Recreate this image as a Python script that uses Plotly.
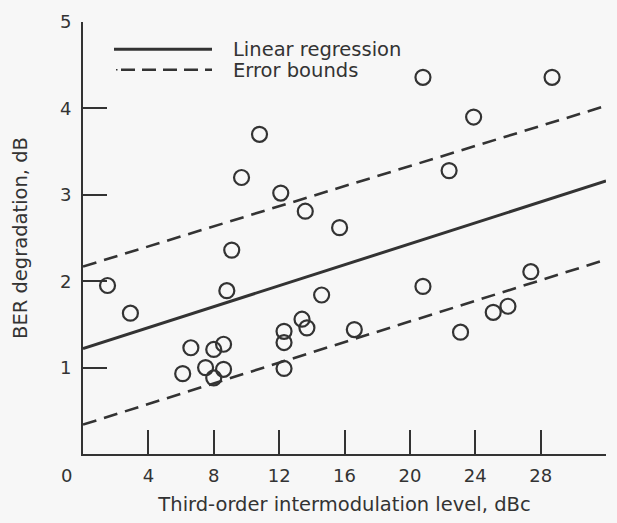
import plotly.graph_objects as go

# Measured data (third-order IM level, dBc  vs  BER degradation, dB)
im_level = [1.5, 2.9, 6.1, 6.6, 7.5, 8.0, 8.0, 8.6, 8.6, 8.8, 9.1, 9.7, 10.8,
            12.1, 13.6, 12.3, 12.3, 12.3, 13.4, 13.7, 14.6, 15.7, 16.6,
            20.8, 20.8, 22.4, 23.9, 23.1, 25.1, 26.0, 27.4, 28.7]
ber_deg = [1.95, 1.63, 0.93, 1.23, 1.00, 0.88, 1.21, 1.27, 0.98, 1.89, 2.36, 3.20, 3.70,
           3.02, 2.81, 1.42, 1.29, 0.99, 1.56, 1.46, 1.84, 2.62, 1.44,
           1.94, 4.36, 3.28, 3.90, 1.41, 1.64, 1.71, 2.11, 4.36]

# Regression line and error bounds (end points)
fit_x = [0, 32]
fit_y = [1.22, 3.16]
upper_y = [2.17, 4.03]
lower_y = [0.34, 2.25]

x_ticks = [4, 8, 12, 16, 20, 24, 28, 32]
y_ticks = [1, 2, 3, 4, 5]

INK = "#333333"
BG = "#f7f7f7"
FONT = "DejaVu Sans"

fig = go.Figure()
fig.add_trace(go.Scatter(x=fit_x, y=fit_y, mode="lines",
                         line=dict(color=INK, width=3), name="Linear regression"))
for yy in (upper_y, lower_y):
    fig.add_trace(go.Scatter(x=fit_x, y=yy, mode="lines",
                             line=dict(color=INK, width=2.6, dash="14px,8px"),
                             name="Error bounds"))
fig.add_trace(go.Scatter(x=im_level, y=ber_deg, mode="markers",
                         marker=dict(symbol="circle-open", size=15,
                                     color=INK, line=dict(width=2.2, color=INK))))

W, H = 617, 523
ml, mr, mt, mb = 83, 11, 14, 66
pw, ph = W - ml - mr, H - mt - mb

def px(xp):
    return (xp - ml) / pw

def py(yp):
    return 1 - (yp - mt) / ph

shapes = [
    dict(type="line", xref="paper", yref="paper", x0=px(114), x1=px(212),
         y0=py(42), y1=py(42), line=dict(color=INK, width=3)),
    dict(type="line", xref="paper", yref="paper", x0=px(121), x1=px(212),
         y0=py(63), y1=py(63), line=dict(color=INK, width=2.6, dash="14px,7px")),
    dict(type="line", xref="paper", yref="paper", x0=px(116), x1=px(117.5),
         y0=py(63), y1=py(63), line=dict(color=INK, width=1.5)),
]

annotations = [
    dict(xref="paper", yref="paper", x=px(231), y=py(42), text="Linear regression",
         showarrow=False, xanchor="left", yanchor="middle",
         font=dict(family=FONT, size=19.5, color=INK)),
    dict(xref="paper", yref="paper", x=px(231), y=py(64), text="Error bounds",
         showarrow=False, xanchor="left", yanchor="middle",
         font=dict(family=FONT, size=19.5, color=INK)),
    dict(xref="x", yref="y", x=0, y=0, text="0", showarrow=False,
         xanchor="center", yanchor="middle", xshift=-17, yshift=-21,
         font=dict(family=FONT, size=18, color=INK)),
]

axis_common = dict(showgrid=False, zeroline=False, showline=True, linecolor=INK,
                   linewidth=2, ticks="inside", ticklen=24, tickwidth=2,
                   tickcolor=INK, tickfont=dict(family=FONT, size=18, color=INK))

fig.update_layout(
    width=W, height=H,
    margin=dict(l=ml, r=mr, t=mt, b=mb, pad=0),
    paper_bgcolor=BG, plot_bgcolor=BG,
    showlegend=False,
    shapes=shapes, annotations=annotations,
    xaxis=dict(range=[0, 32], tickvals=x_ticks, ticktext=[str(v) for v in x_ticks],
               title=dict(text="Third-order intermodulation level, dBc", standoff=13,
                          font=dict(family=FONT, size=19.5, color=INK)),
               ticklabelstandoff=4, **axis_common),
    yaxis=dict(range=[0, 5], tickvals=y_ticks, ticktext=[str(v) for v in y_ticks],
               title=dict(text="BER degradation, dB", standoff=27,
                          font=dict(family=FONT, size=19.5, color=INK)),
               ticklabelstandoff=6, **axis_common),
)

fig.write_html("out.html")
